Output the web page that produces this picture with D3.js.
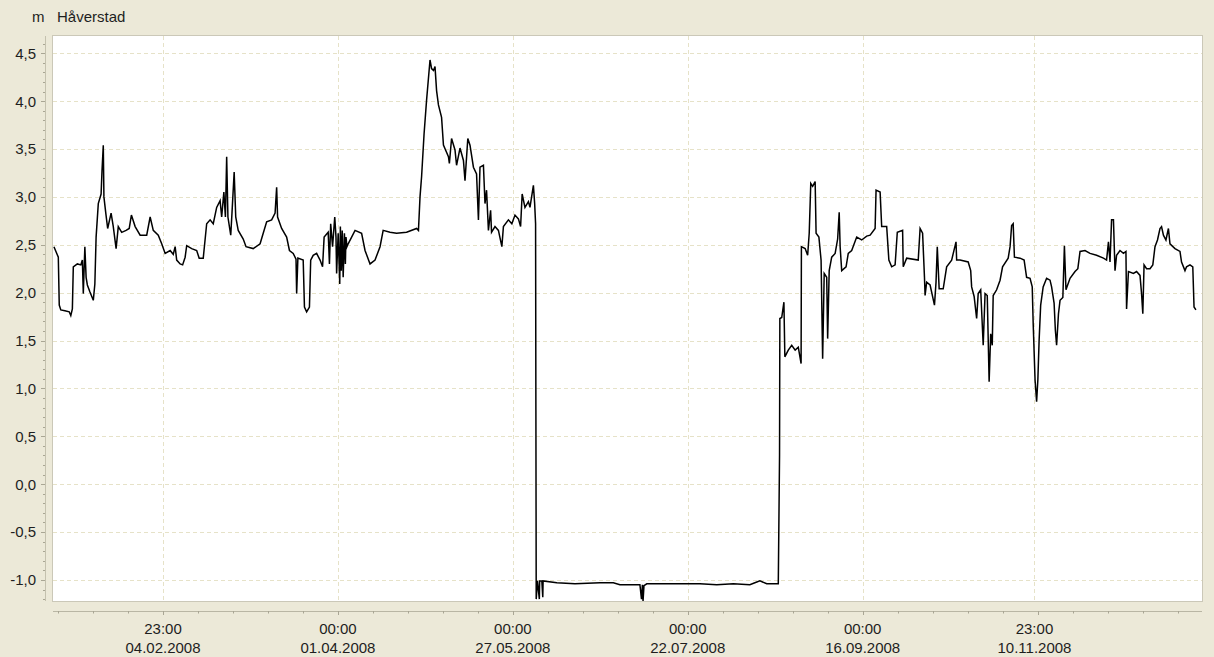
<!DOCTYPE html>
<html>
<head>
<meta charset="utf-8">
<script src="https://cdn.jsdelivr.net/npm/d3@7"></script>
<style>
  html, body { margin: 0; padding: 0; background: #ECE9D8; }
  svg { display: block; }
  text { font-family: "Liberation Sans", Arial, sans-serif; font-size: 15px; fill: #1e1e1e; }
</style>
</head>
<body>
<svg id="chart" width="1214" height="657"></svg>
<script>
// water level, Håverstad 2008 (days since 01.01.2008 UTC, metres)
const days = [
  0.0, 1.4, 1.7, 2.2, 3.5, 4.9, 5.4, 5.9, 6.2, 7.5, 8.6, 9.1, 9.4, 9.9, 10.3, 10.7, 11.5, 12.6, 13.1, 13.5,
  14.2, 15.1, 15.4, 15.8, 16.0, 16.6, 17.2, 18.3, 19.0, 19.9, 20.6, 21.7, 23.1, 24.1, 24.8, 26.0, 27.6, 29.7,
  30.8, 31.8, 33.4, 34.5, 35.6, 37.2, 38.2, 38.8, 39.3, 40.4, 41.2, 42.0, 42.5, 44.1, 45.7, 46.5, 47.8, 48.9,
  50.0, 51.0, 52.1, 53.2, 53.7, 54.4, 54.9, 55.3, 55.7, 56.6, 57.0, 57.7, 58.2, 59.0, 60.6, 61.5, 63.8, 66.0,
  67.0, 68.1, 69.7, 70.8, 71.3, 71.6, 72.9, 74.5, 75.4, 76.6, 77.5, 77.7, 78.1, 79.8, 80.2, 80.9, 81.8, 82.2,
  83.0, 84.1, 85.2, 86.0, 86.5, 87.8, 88.2, 88.6, 89.2, 89.9, 90.3, 90.5, 91.0, 91.5, 91.7, 92.0, 92.3, 92.6,
  93.0, 93.3, 93.5, 93.8, 94.2, 96.4, 98.5, 99.6, 101.2, 102.8, 104.4, 105.4, 107.6, 109.7, 112.9, 116.1,
  116.7, 117.2, 117.7, 118.5, 119.3, 120.4, 120.9, 121.5, 122.0, 122.5, 123.1, 124.1, 124.7, 126.3, 126.6,
  127.3, 128.4, 128.9, 130.0, 131.1, 131.6, 132.5, 133.2, 134.3, 135.3, 135.9, 136.4, 137.5, 138.0, 138.5,
  139.1, 139.8, 140.1, 141.2, 142.3, 143.4, 143.9, 145.5, 146.6, 147.6, 148.7, 149.4, 149.9, 150.8, 151.9,
  152.4, 153.5, 153.9, 154.2, 154.3, 154.4, 154.8, 155.4, 155.5, 156.2, 156.5, 156.6, 161.0, 166.8, 174.8,
  179.1, 181.2, 187.6, 188.1, 188.4, 188.6, 188.9, 189.8, 198.3, 206.8, 212.2, 217.5, 222.8, 224.4, 226.0,
  228.2, 231.9, 232.3, 232.4, 233.0, 233.7, 234.0, 235.1, 236.2, 237.3, 238.3, 239.2, 239.3, 240.5, 241.3,
  241.8, 242.3, 242.9, 243.7, 244.0, 244.9, 245.6, 246.1, 246.6, 247.4, 247.7, 248.2, 249.0, 250.1, 250.9,
  251.4, 251.7, 252.2, 253.6, 254.3, 255.4, 257.0, 258.6, 260.2, 261.3, 262.9, 263.2, 264.5, 265.0, 266.6,
  267.3, 268.2, 269.3, 270.0, 271.7, 271.9, 273.0, 276.7, 277.3, 278.1, 278.7, 278.9, 279.4, 280.5, 281.9,
  282.4, 282.8, 283.4, 284.7, 285.8, 287.4, 288.8, 289.0, 290.1, 292.7, 293.5, 293.8, 294.6, 295.4, 295.9,
  296.7, 297.5, 298.1, 298.8, 299.4, 299.9, 300.4, 300.7, 301.8, 302.9, 303.7, 305.5, 306.1, 306.6, 307.1,
  307.5, 309.3, 310.6, 311.4, 312.5, 313.2, 313.5, 314.1, 314.6, 315.0, 315.4, 315.9, 316.7, 317.8, 318.9,
  319.4, 320.2, 320.6, 321.0, 321.6, 322.1, 323.0, 323.5, 324.0, 325.3, 326.9, 327.8, 328.5, 330.1, 331.7,
  333.8, 336.0, 337.0, 337.6, 338.1, 338.6, 339.2, 339.7, 340.2, 341.3, 342.4, 343.2, 343.4, 344.0, 345.6,
  346.6, 347.7, 348.2, 348.6, 349.0, 349.8, 350.9, 351.8, 352.5, 353.3, 354.1, 354.6, 355.2, 356.0, 356.8,
  357.3, 358.9, 360.5, 361.0, 362.1, 362.6, 363.7, 364.6, 365.0, 365.6
];
const levels = [
  2.48, 2.37, 1.87, 1.82, 1.81, 1.80, 1.76, 1.83, 2.27, 2.30, 2.29, 2.34, 1.99, 2.48, 2.16, 2.08, 2.01, 1.92, 2.09, 2.58,
  2.93, 3.03, 3.28, 3.54, 3.00, 2.83, 2.67, 2.83, 2.69, 2.46, 2.69, 2.63, 2.65, 2.67, 2.81, 2.69, 2.60, 2.60,
  2.79, 2.65, 2.60, 2.51, 2.41, 2.44, 2.40, 2.48, 2.34, 2.30, 2.29, 2.37, 2.49, 2.46, 2.44, 2.36, 2.36, 2.72,
  2.76, 2.72, 2.89, 2.96, 2.79, 3.05, 2.79, 3.42, 2.79, 2.60, 2.83, 3.26, 2.79, 2.65, 2.56, 2.48, 2.46, 2.51,
  2.62, 2.74, 2.76, 2.83, 3.10, 2.79, 2.67, 2.58, 2.44, 2.41, 2.35, 1.99, 2.36, 2.34, 1.85, 1.80, 1.85, 2.34,
  2.39, 2.41, 2.34, 2.27, 2.58, 2.63, 2.30, 2.72, 2.48, 2.79, 2.58, 2.20, 2.62, 2.09, 2.69, 2.23, 2.65, 2.16,
  2.62, 2.30, 2.58, 2.48, 2.51, 2.65, 2.62, 2.44, 2.30, 2.34, 2.48, 2.65, 2.63, 2.62, 2.63, 2.67,
  2.65, 3.00, 3.21, 3.66, 4.01, 4.43, 4.34, 4.32, 4.36, 4.11, 3.96, 3.83, 3.54, 3.42, 3.35,
  3.61, 3.49, 3.33, 3.51, 3.38, 3.17, 3.61, 3.54, 3.31, 3.24, 2.76, 3.31, 3.33, 2.93, 3.07,
  2.65, 2.86, 2.63, 2.69, 2.65, 2.48, 2.69, 2.76, 2.72, 2.81, 2.77, 2.69, 3.03, 2.89, 2.95,
  2.89, 3.12, 2.93, 2.72, 0.77, -1.20, -1.01, -1.20, -1.01, -1.01, -1.18, -1.01, -1.03, -1.04, -1.03,
  -1.03, -1.05, -1.05, -1.20, -1.05, -1.22, -1.06, -1.04, -1.04, -1.04, -1.05, -1.04, -1.05, -1.03, -1.01,
  -1.04, -1.04, 0.30, 1.73, 1.74, 1.90, 1.33, 1.40, 1.45, 1.40, 1.43, 1.26, 2.48, 2.46, 2.39,
  2.62, 3.14, 3.11, 3.16, 2.62, 2.58, 2.34, 1.31, 2.20, 2.16, 1.52, 2.23, 2.37, 2.41, 2.56,
  2.84, 2.48, 2.23, 2.27, 2.41, 2.44, 2.58, 2.55, 2.59, 2.60, 2.67, 3.07, 3.05, 2.69, 2.69,
  2.34, 2.27, 2.29, 2.63, 2.65, 2.27, 2.36, 2.34, 2.67, 2.62, 2.16, 1.97, 2.11, 2.08, 1.87,
  2.11, 2.48, 2.04, 2.04, 2.27, 2.34, 2.53, 2.34, 2.34, 2.32, 2.23, 2.06, 1.96, 1.73, 1.99,
  2.03, 1.45, 1.99, 1.97, 1.07, 1.57, 1.45, 1.97, 2.03, 2.13, 2.27, 2.36, 2.48, 2.70, 2.72,
  2.37, 2.36, 2.34, 2.16, 2.15, 2.06, 1.68, 1.09, 0.86, 1.09, 1.50, 1.87, 2.06, 2.15, 2.13,
  2.06, 1.89, 1.61, 1.45, 1.78, 1.92, 1.95, 2.49, 2.03, 2.15, 2.22, 2.25, 2.43, 2.44, 2.41,
  2.39, 2.36, 2.34, 2.53, 2.32, 2.76, 2.76, 2.23, 2.39, 2.44, 2.41, 2.43, 1.83, 2.22, 2.20,
  2.22, 2.18, 1.99, 1.78, 2.29, 2.25, 2.25, 2.29, 2.48, 2.55, 2.67, 2.69, 2.60, 2.55, 2.67,
  2.51, 2.46, 2.43, 2.32, 2.23, 2.27, 2.29, 2.27, 1.85, 1.82
];

// axis ticks
const yTickValues = [-1.0, -0.5, 0.0, 0.5, 1.0, 1.5, 2.0, 2.5, 3.0, 3.5, 4.0, 4.5];
const xTickTimes = ["23:00", "00:00", "00:00", "00:00", "00:00", "23:00"];
const xTickDates = ["04.02.2008", "01.04.2008", "27.05.2008", "22.07.2008", "16.09.2008", "10.11.2008"];
const xTickUtc = ["2008-02-04T22:00Z", "2008-03-31T22:00Z", "2008-05-26T22:00Z",
                  "2008-07-21T22:00Z", "2008-09-15T22:00Z", "2008-11-09T22:00Z"];
const seriesName = "Håverstad";
const unit = "m";

const DAY = 864e5;
const t0 = Date.UTC(2008, 0, 1);
const plot = { left: 53, top: 36, right: 1202, bottom: 601 };

const x = d3.scaleUtc()
  .domain([new Date(t0 - 0.3 * DAY), new Date(t0 + 367.55 * DAY)])
  .range([plot.left, plot.right]);
const y = d3.scaleLinear()
  .domain([-1.22, 4.68])
  .range([plot.bottom, plot.top]);

const data = days.map((d, i) => ({ date: new Date(t0 + d * DAY), value: levels[i] }));
const xMajor = xTickUtc.map(s => new Date(s));

const svg = d3.select("#chart");

svg.append("defs").append("clipPath").attr("id", "plot-clip")
  .append("rect")
  .attr("x", plot.left).attr("y", plot.top)
  .attr("width", plot.right - plot.left).attr("height", plot.bottom - plot.top);

// plot background
svg.append("rect")
  .attr("x", plot.left - 0.5).attr("y", plot.top - 0.5)
  .attr("width", plot.right - plot.left + 1).attr("height", plot.bottom - plot.top + 1)
  .attr("fill", "#fff")
  .attr("stroke", "#CBC8B8");

// grid
const grid = svg.append("g").attr("stroke", "#E6E2C8").attr("stroke-dasharray", "4,3");
grid.selectAll(".hgrid")
  .data(yTickValues)
  .join("line")
  .attr("x1", plot.left).attr("x2", plot.right)
  .attr("y1", d => Math.round(y(d)) + 0.5).attr("y2", d => Math.round(y(d)) + 0.5);
grid.selectAll(".vgrid")
  .data(xMajor)
  .join("line")
  .attr("y1", plot.top).attr("y2", plot.bottom)
  .attr("x1", d => Math.round(x(d)) + 0.5).attr("x2", d => Math.round(x(d)) + 0.5);

// y axis (major every 0.5, minor every 0.1)
const yMinor = d3.range(-12, 47).map(i => i / 10).filter(v => y(v) >= plot.top && y(v) <= plot.bottom);
const yAxis = svg.append("g");
yAxis.append("line")
  .attr("x1", 45.5).attr("x2", 45.5)
  .attr("y1", plot.top).attr("y2", plot.bottom)
  .attr("stroke", "#C4C1AE");
yAxis.selectAll(".ytick")
  .data(yMinor)
  .join("line")
  .attr("x1", d => Math.abs(d * 2 - Math.round(d * 2)) < 1e-6 ? 41 : 43).attr("x2", 45)
  .attr("y1", d => Math.round(y(d)) + 0.5).attr("y2", d => Math.round(y(d)) + 0.5)
  .attr("stroke", "#A9A694");
yAxis.selectAll("text")
  .data(yTickValues)
  .join("text")
  .attr("x", 36)
  .attr("y", d => y(d))
  .attr("dy", "0.36em")
  .attr("text-anchor", "end")
  .text(d => d3.format(".1f")(d).replace("−", "-").replace(".", ","));

// x axis (major every 56 days, minor every 11.2 days)
const xMinor = d3.range(-3, 30).map(i => new Date(xMajor[0].getTime() + i * 11.2 * DAY))
  .filter(d => x(d) >= plot.left && x(d) <= plot.right);
const xAxis = svg.append("g");
xAxis.append("line")
  .attr("x1", plot.left).attr("x2", plot.right)
  .attr("y1", 611.5).attr("y2", 611.5)
  .attr("stroke", "#B9B6A4");
xAxis.selectAll(".xtick")
  .data(xMinor)
  .join("line")
  .attr("x1", d => Math.round(x(d)) + 0.5).attr("x2", d => Math.round(x(d)) + 0.5)
  .attr("y1", 611).attr("y2", (d, i) => (i - 3) % 5 === 0 ? 615 : 613.5)
  .attr("stroke", "#A9A694");
const xLabels = xAxis.selectAll(".xlabel")
  .data(xMajor)
  .join("text")
  .attr("text-anchor", "middle")
  .attr("x", d => x(d));
xLabels.append("tspan").attr("x", d => x(d)).attr("y", 634).text((d, i) => xTickTimes[i]);
xLabels.append("tspan").attr("x", d => x(d)).attr("y", 653).text((d, i) => xTickDates[i]);

// title
svg.append("text").attr("x", 32).attr("y", 22).text(unit);
svg.append("text").attr("x", 57).attr("y", 22).text(seriesName);

// series line
const line = d3.line()
  .x(d => x(d.date))
  .y(d => y(d.value));

svg.append("path")
  .datum(data)
  .attr("clip-path", "url(#plot-clip)")
  .attr("fill", "none")
  .attr("stroke", "#000")
  .attr("stroke-width", 1.5)
  .attr("stroke-linejoin", "miter")
  .attr("d", line);
</script>
</body>
</html>
